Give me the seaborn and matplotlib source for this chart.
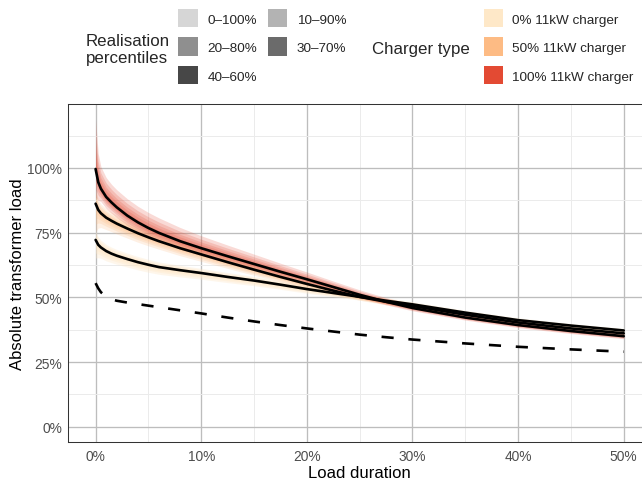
import numpy as np
import pandas as pd
import matplotlib
matplotlib.use("Agg")
import matplotlib.pyplot as plt
import seaborn as sns
from matplotlib.patches import Rectangle

# ---------------------------------------------------------------- data
duration = [0, 0.25, 0.5, 1, 1.5, 2, 3, 4, 5, 6, 8, 10, 12.5, 15,
            17.5, 20, 22.5, 25, 27.5, 30, 35, 40, 45, 50]

# median load duration curves (% of transformer rating)
median_0 = [72.2, 70.3, 69.3, 67.9, 66.9, 66.1, 64.8, 63.6, 62.6, 61.7, 60.5, 59.4,
            57.9, 56.5, 54.9, 53.2, 51.7, 50.2, 48.7, 47.3, 44.1, 41.2, 39.1, 37.2]
median_50 = [86.2, 83.8, 82.5, 80.8, 79.6, 78.5, 76.6, 74.8, 73.2, 71.7, 69.0, 66.6,
             63.6, 60.7, 57.9, 55.2, 52.6, 50.2, 48.3, 46.7, 43.3, 40.3, 38.0, 36.1]
median_100 = [99.6, 94.5, 92.0, 88.8, 86.7, 84.8, 81.6, 79.0, 76.8, 74.9, 71.7, 69.0,
              65.9, 62.9, 59.9, 57.0, 54.0, 51.0, 48.3, 45.9, 42.2, 39.3, 37.0, 35.0]
# base load without EV charging
base_load = [55.5, 53.5, 52.0, 50.3, 49.3, 48.7, 48.0, 47.4, 46.8, 46.2, 45.0, 43.8,
             42.2, 40.7, 39.3, 38.0, 36.8, 35.6, 34.6, 33.7, 32.2, 30.9, 29.9, 29.0]

# spread of the full 0-100% realisation range above / below the median
spread_hi_0 = [3.5, 3.0, 2.8, 2.6, 2.5, 2.4, 2.3, 2.2, 2.1, 2.0, 1.9, 1.8,
               1.7, 1.6, 1.5, 1.4, 1.3, 1.2, 1.1, 1.0, 0.9, 0.9, 0.8, 0.8]
spread_lo_0 = [7.0, 5.0, 4.2, 3.8, 3.5, 3.3, 3.1, 3.0, 2.9, 2.8, 2.6, 2.4,
               2.2, 2.0, 1.8, 1.6, 1.4, 1.3, 1.2, 1.1, 1.0, 0.9, 0.8, 0.8]
spread_hi_50 = [5.0, 4.0, 3.6, 3.4, 3.3, 3.2, 3.1, 3.0, 3.0, 2.9, 2.7, 2.5,
                2.3, 2.1, 1.9, 1.7, 1.5, 1.3, 1.2, 1.1, 1.0, 0.9, 0.9, 0.9]
spread_lo_50 = [11.0, 7.0, 5.5, 4.6, 4.2, 4.0, 3.7, 3.5, 3.3, 3.1, 2.9, 2.7,
                2.4, 2.2, 1.9, 1.7, 1.5, 1.3, 1.2, 1.1, 1.0, 0.9, 0.9, 0.9]
spread_hi_100 = [19.0, 11.0, 8.5, 7.5, 7.0, 6.8, 6.5, 6.2, 6.0, 5.8, 5.3, 4.8,
                 4.3, 3.8, 3.3, 2.8, 2.3, 1.9, 1.6, 1.4, 1.2, 1.1, 1.0, 1.0]
spread_lo_100 = [11.0, 7.0, 5.0, 4.5, 4.2, 4.0, 3.8, 3.6, 3.4, 3.2, 3.0, 2.8,
                 2.5, 2.3, 2.0, 1.8, 1.6, 1.4, 1.2, 1.1, 1.0, 1.0, 1.0, 1.0]

charger_labels = ["0% 11kW charger", "50% 11kW charger", "100% 11kW charger"]
charger_colors = ["#FEE8C8", "#FDBB84", "#E34A33"]

percentile_labels = ["0\u2013100%", "10\u201390%", "20\u201380%", "30\u201370%", "40\u201360%"]
percentile_share = [1.0, 0.72, 0.5, 0.32, 0.15]
percentile_greys = ["#D6D6D6", "#B3B3B3", "#8F8F8F", "#6B6B6B", "#474747"]

x_ticks = [0, 10, 20, 30, 40, 50]
x_tick_labels = ["0%", "10%", "20%", "30%", "40%", "50%"]
y_ticks = [0, 25, 50, 75, 100]
y_tick_labels = ["0%", "25%", "50%", "75%", "100%"]

medians = [median_0, median_50, median_100]
spreads_hi = [spread_hi_0, spread_hi_50, spread_hi_100]
spreads_lo = [spread_lo_0, spread_lo_50, spread_lo_100]
band_alpha = [0.35, 0.22, 0.2]

# ---------------------------------------------------------------- style
sns.set_style("white")
plt.rcParams["font.family"] = ["Liberation Sans", "DejaVu Sans"]

W, H = 642, 481
fig = plt.figure(figsize=(W / 100, H / 100), dpi=100)

px_left, px_bottom, px_top = 68.3, 443.3, 105.3
x_lo, x_hi = -2.585, 52.5
y_lo, y_hi = -6.0, 124.6
px_per_x = 10.5626
ax_w = (x_hi - x_lo) * px_per_x
ax = fig.add_axes([px_left / W, (H - px_bottom) / H, ax_w / W, (px_bottom - px_top) / H])

# ---------------------------------------------------------------- bands
x = np.array(duration)
for med, hi, lo, col, a in zip(medians, spreads_hi, spreads_lo, charger_colors, band_alpha):
    med, hi, lo = np.array(med), np.array(hi), np.array(lo)
    for share in percentile_share:
        ax.fill_between(x, med - lo * share, med + hi * share,
                        color=col, alpha=a, linewidth=0, zorder=2)

# ---------------------------------------------------------------- lines
df_med = pd.DataFrame({
    "duration": duration * 3,
    "load": median_0 + median_50 + median_100,
    "charger": sum([[c] * len(duration) for c in charger_labels], []),
})
sns.lineplot(data=df_med, x="duration", y="load", units="charger", estimator=None,
             color="black", linewidth=1.9, ax=ax, legend=False, zorder=4)

df_base = pd.DataFrame({"duration": duration, "load": base_load})
sns.lineplot(data=df_base, x="duration", y="load", color="black",
             linewidth=1.9, ax=ax, legend=False, zorder=4)
ax.lines[-1].set_linestyle((0, (4.6, 5.6)))
ax.lines[-1].set_dash_capstyle("butt")

# ---------------------------------------------------------------- axes
ax.set_xlim(x_lo, x_hi)
ax.set_ylim(y_lo, y_hi)
ax.set_xticks(x_ticks)
ax.set_xticklabels(x_tick_labels)
ax.set_yticks(y_ticks)
ax.set_yticklabels(y_tick_labels)
ax.set_xticks([5, 15, 25, 35, 45], minor=True)
ax.set_yticks([12.5, 37.5, 62.5, 87.5, 112.5], minor=True)
ax.set_axisbelow(True)
ax.grid(which="major", color="#BDBDBD", linewidth=0.95)
ax.grid(which="minor", color="#EBEBEB", linewidth=0.7)
ax.tick_params(which="major", length=2.7, width=0.75, color="#333333",
               labelsize=9.9, labelcolor="#4D4D4D", pad=1.8)
ax.tick_params(which="minor", length=0)
for sp in ax.spines.values():
    sp.set_color("#333333")
    sp.set_linewidth(0.75)
ax.set_xlabel("")
ax.set_ylabel("")

# ---------------------------------------------------------------- overlay in pixel coordinates
lg = fig.add_axes([0, 0, 1, 1], zorder=5)
lg.set_xlim(0, W)
lg.set_ylim(H, 0)
lg.axis("off")
lg.patch.set_visible(False)

lg.text(359, 478.3, "Load duration", fontsize=12, ha="center", va="baseline", color="black")
lg.text(17.5, 274.3, "Absolute transformer load", fontsize=12, rotation=90,
        ha="center", va="center", color="black")

row_centres = [19.2, 47.5, 75.8]
key_w, key_h = 19.4, 18.4
label_base = 4.8

# percentile legend (filled row by row, two columns)
lg.text(86, 45.5, "Realisation", fontsize=12.2, ha="left", va="baseline")
lg.text(86, 63.0, "percentiles", fontsize=12.2, ha="left", va="baseline")
col_keys = [178.3, 268.0]
col_texts = [207.3, 297.0]
for i, (lab, grey) in enumerate(zip(percentile_labels, percentile_greys)):
    r, c = divmod(i, 2)
    yc = row_centres[r]
    lg.add_patch(Rectangle((col_keys[c], yc - key_h / 2), key_w, key_h,
                           facecolor=grey, edgecolor="none"))
    lg.text(col_texts[c], yc + label_base, lab, fontsize=9.7, ha="left", va="baseline")

# charger type legend
lg.text(372, 54.0, "Charger type", fontsize=12.2, ha="left", va="baseline")
for yc, lab, col in zip(row_centres, charger_labels, charger_colors):
    lg.add_patch(Rectangle((483.5, yc - key_h / 2), key_w, key_h,
                           facecolor=col, edgecolor="none"))
    lg.text(512, yc + label_base, lab, fontsize=9.7, ha="left", va="baseline")

fig.savefig("out.png", dpi=100)
